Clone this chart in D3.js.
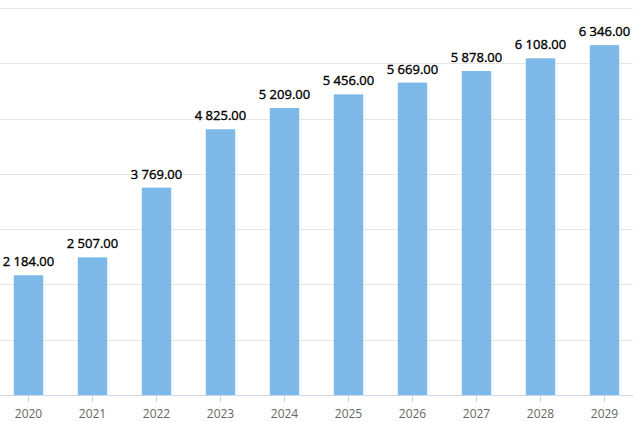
<!DOCTYPE html>
<html>
  <head>
    <script src="https://cdn.jsdelivr.net/npm/d3@7"></script>
    <style>
      body { margin: 0; background: #fff; }
      text { font-family: "Open Sans", sans-serif; }
    </style>
  </head>
  <body>
    <svg id="chart" width="633" height="422"></svg>
    <script>
      var years = ["2020", "2021", "2022", "2023", "2024", "2025", "2026", "2027", "2028", "2029"];
      var values = [2184, 2507, 3769, 4825, 5209, 5456, 5669, 5878, 6108, 6346];
      var gridTicks = [0, 1000, 2000, 3000, 4000, 5000, 6000, 7000];

      var svg = d3.select("#chart");

      var x = d3.scaleBand()
        .domain(years)
        .range([-3.5, 636.5])
        .paddingInner(0.54)
        .paddingOuter(0.27);

      var y = d3.scaleLinear()
        .domain([0, 7000])
        .range([395, 8]);

      // horizontal grid
      svg.append("g")
        .selectAll("line")
        .data(gridTicks)
        .enter().append("line")
        .attr("x1", 0).attr("x2", 633)
        .attr("y1", function(d){ return Math.round(y(d)) + 0.5; })
        .attr("y2", function(d){ return Math.round(y(d)) + 0.5; })
        .attr("stroke", "#e6e6e6");

      // bars (thin white border like the original, top edge sits slightly lower)
      svg.append("g")
        .selectAll("rect")
        .data(values)
        .enter().append("rect")
        .attr("x", function(d, i){ return x(years[i]); })
        .attr("width", x.bandwidth())
        .attr("y", function(d){ return y(d) + 1; })
        .attr("height", function(d){ return y(0) - y(d) - 1; })
        .attr("fill", "#7cb9e8");

      // x axis
      var xAxis = svg.append("g")
        .attr("transform", "translate(0,395)")
        .call(d3.axisBottom(x).tickSize(7).tickPadding(7).tickSizeOuter(0));
      xAxis.select(".domain").attr("stroke", "#ccd6eb");
      xAxis.selectAll(".tick line").attr("stroke", "#ccd6eb");
      xAxis.selectAll(".tick text")
        .attr("fill", "#666")
        .style("font-size", "12px")
        .style("font-family", "'Open Sans', sans-serif");

      // value labels
      var fmt = function(v){ return d3.format(",.2f")(v).replace(/,/g, " "); };
      svg.append("g")
        .selectAll("text")
        .data(values)
        .enter().append("text")
        .attr("x", function(d, i){ return x(years[i]) + x.bandwidth() / 2; })
        .attr("y", function(d){ return y(d) - 8; })
        .attr("text-anchor", "middle")
        .attr("fill", "#000")
        .attr("stroke", "#000")
        .attr("stroke-width", 0.35)
        .style("font-size", "13px")
        .text(fmt);
    </script>
  </body>
</html>
